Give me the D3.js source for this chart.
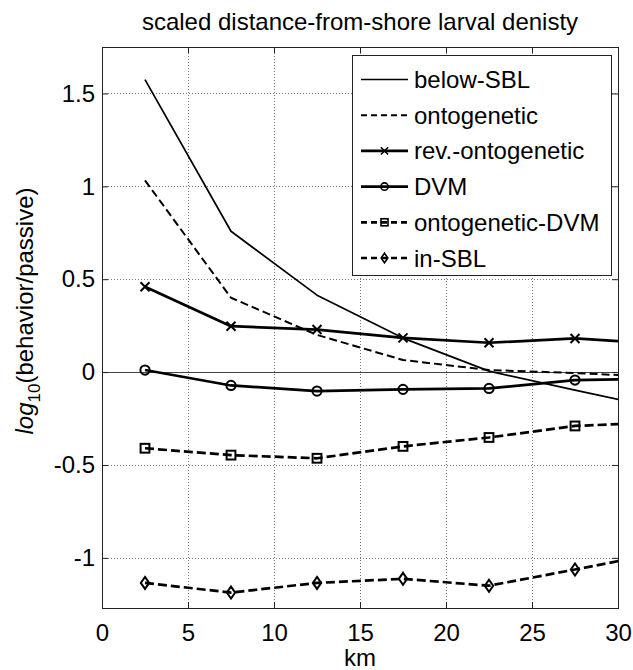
<!DOCTYPE html>
<html>
<head>
<meta charset="utf-8">
<script src="https://cdn.jsdelivr.net/npm/d3@7"></script>
<style>
  html, body { margin: 0; padding: 0; background: #fff; }
  svg { display: block; font-family: "Liberation Sans", Arial, Helvetica, sans-serif; }
</style>
</head>
<body>
<svg id="chart" width="633" height="670"></svg>
<script>
// Distance bins (km, bin centres) and log10 ratio of behaviour to passive density
const km = [2.5, 7.5, 12.5, 17.5, 22.5, 27.5, 32.5];
const belowSBL       = [1.574, 0.758, 0.414, 0.183, 0.005, -0.097, -0.197];
const ontogenetic    = [1.032, 0.400, 0.200, 0.065, 0.011, -0.005, -0.027];
const revOntogenetic = [0.459, 0.247, 0.229, 0.184, 0.158, 0.181, 0.153];
const dvm            = [0.011, -0.072, -0.102, -0.093, -0.088, -0.043, -0.035];
const ontogeneticDVM = [-0.410, -0.447, -0.464, -0.400, -0.352, -0.290, -0.270];
const inSBL          = [-1.135, -1.187, -1.135, -1.113, -1.150, -1.063, -0.973];

const seriesNames = ["below-SBL", "ontogenetic", "rev.-ontogenetic", "DVM", "ontogenetic-DVM", "in-SBL"];
const seriesValues = [belowSBL, ontogenetic, revOntogenetic, dvm, ontogeneticDVM, inSBL];

const xTicks = [0, 5, 10, 15, 20, 25, 30];
const yTicks = [-1, -0.5, 0, 0.5, 1, 1.5];

const titleText = "scaled distance-from-shore larval denisty";
const xLabel = "km";

// Line appearance for each series (same order as seriesNames)
const styles = [
  { width: 1.7, dash: null,  legendDash: null,  marker: null },
  { width: 2.0, dash: "8,4", legendDash: "6,4", marker: null },
  { width: 2.7, dash: null,  legendDash: null,  marker: "x" },
  { width: 2.7, dash: null,  legendDash: null,  marker: "circle" },
  { width: 2.7, dash: "9,4", legendDash: "6,4", marker: "square" },
  { width: 2.7, dash: "9,4", legendDash: "6,4", marker: "diamond" }
];

const svg = d3.select("#chart");
const plotL = 102, plotR = 618, plotT = 47, plotB = 608;
const fontSize = 24;

const x = d3.scaleLinear().domain([0, 30]).range([plotL, plotR]);
const y = d3.scaleLinear().domain([-1.27, 1.75]).range([plotB, plotT]);

// title
svg.append("text")
  .attr("x", (plotL + plotR) / 2).attr("y", 30)
  .attr("text-anchor", "middle")
  .attr("font-size", fontSize)
  .text(titleText);

// dotted grid
const grid = svg.append("g").attr("stroke", "#777").attr("stroke-width", 1)
  .attr("stroke-dasharray", "1,2");
grid.selectAll("line.gx").data(xTicks.slice(1, -1)).join("line")
  .attr("x1", d => x(d) + 0.5).attr("x2", d => x(d) + 0.5)
  .attr("y1", plotT).attr("y2", plotB);
grid.selectAll("line.gy").data(yTicks).join("line")
  .attr("x1", plotL).attr("x2", plotR)
  .attr("y1", d => Math.round(y(d)) + 0.5).attr("y2", d => Math.round(y(d)) + 0.5);

// zero reference line
svg.append("line")
  .attr("x1", plotL).attr("x2", plotR)
  .attr("y1", Math.round(y(0)) + 0.5).attr("y2", Math.round(y(0)) + 0.5)
  .attr("stroke", "#444").attr("stroke-width", 1);

// axes with inward ticks on all four sides
const fmt = d => String(d);
const axB = svg.append("g").attr("transform", `translate(0,${plotB})`)
  .call(d3.axisBottom(x).tickValues(xTicks).tickFormat(fmt).tickSize(-6).tickPadding(16).tickSizeOuter(0));
const axT = svg.append("g").attr("transform", `translate(0,${plotT})`)
  .call(d3.axisTop(x).tickValues(xTicks).tickFormat("").tickSize(-6).tickSizeOuter(0));
const axL = svg.append("g").attr("transform", `translate(${plotL},0)`)
  .call(d3.axisLeft(y).tickValues(yTicks).tickFormat(fmt).tickSize(-6).tickPadding(7).tickSizeOuter(0));
const axR = svg.append("g").attr("transform", `translate(${plotR},0)`)
  .call(d3.axisRight(y).tickValues(yTicks).tickFormat("").tickSize(-6).tickSizeOuter(0));
[axB, axT, axL, axR].forEach(g => {
  g.selectAll(".domain").remove();
  g.selectAll(".tick line").attr("stroke", "#222");
  g.selectAll("text").attr("font-size", fontSize).attr("fill", "#000")
    .attr("font-family", "Liberation Sans, Arial, sans-serif");
});

// plot box
svg.append("rect")
  .attr("x", plotL + 0.5).attr("y", plotT + 0.5)
  .attr("width", plotR - plotL).attr("height", plotB - plotT)
  .attr("fill", "none").attr("stroke", "#222").attr("stroke-width", 1);

// axis labels
svg.append("text")
  .attr("x", (plotL + plotR) / 2).attr("y", 666)
  .attr("text-anchor", "middle").attr("font-size", fontSize)
  .text(xLabel);

const yl = svg.append("text")
  .attr("transform", `translate(33,${311}) rotate(-90)`)
  .attr("text-anchor", "middle").attr("font-size", fontSize);
yl.append("tspan").attr("font-style", "italic").text("log");
yl.append("tspan").attr("font-size", 17).attr("dy", 7).text("10");
yl.append("tspan").attr("dy", -7).text("(behavior/passive)");

// marker drawing
function drawMarker(g, type, cx, cy, sw, scale) {
  const k = scale || 1;
  if (type === "x") {
    const s = 4.5 * k;
    g.append("path")
      .attr("d", `M${cx - s},${cy - s}L${cx + s},${cy + s}M${cx - s},${cy + s}L${cx + s},${cy - s}`)
      .attr("stroke", "#000").attr("stroke-width", sw).attr("fill", "none");
  } else if (type === "circle") {
    g.append("circle").attr("cx", cx).attr("cy", cy).attr("r", 4.6 * k)
      .attr("stroke", "#000").attr("stroke-width", sw).attr("fill", "none");
  } else if (type === "square") {
    const h = 4.4 * k;
    g.append("rect").attr("x", cx - h).attr("y", cy - h).attr("width", 2 * h).attr("height", 2 * h)
      .attr("stroke", "#000").attr("stroke-width", sw).attr("fill", "none");
  } else if (type === "diamond") {
    const w = 4.2 * k, h = 6 * k;
    g.append("path")
      .attr("d", `M${cx},${cy - h}L${cx + w},${cy}L${cx},${cy + h}L${cx - w},${cy}Z`)
      .attr("stroke", "#000").attr("stroke-width", sw).attr("fill", "none");
  }
}

// clip to the axes
svg.append("defs").append("clipPath").attr("id", "plotclip")
  .append("rect").attr("x", plotL).attr("y", plotT).attr("width", plotR - plotL).attr("height", plotB - plotT);

const plot = svg.append("g").attr("clip-path", "url(#plotclip)");
const line = d3.line().x((d, i) => x(km[i])).y(d => y(d));

seriesValues.forEach((vals, k) => {
  const st = styles[k];
  plot.append("path")
    .attr("d", line(vals))
    .attr("fill", "none").attr("stroke", "#000")
    .attr("stroke-width", st.width)
    .attr("stroke-dasharray", st.dash)
    .attr("stroke-linejoin", "round");
  if (st.marker) {
    vals.forEach((v, i) => drawMarker(plot, st.marker, x(km[i]), y(v), 2));
  }
});

// legend
const lg = svg.append("g");
lg.append("rect")
  .attr("x", 352.5).attr("y", 55.5).attr("width", 259).attr("height", 220)
  .attr("fill", "#fff").attr("stroke", "#222").attr("stroke-width", 1);
seriesNames.forEach((name, k) => {
  const st = styles[k];
  const base = 88 + k * 35.7;
  const cy = base - 8.5;
  lg.append("line")
    .attr("x1", 361).attr("x2", 408).attr("y1", cy).attr("y2", cy)
    .attr("stroke", "#000").attr("stroke-width", st.width)
    .attr("stroke-dasharray", st.legendDash);
  if (st.marker) drawMarker(lg, st.marker, 384.5, cy, 1.6, 0.8);
  lg.append("text")
    .attr("x", 414).attr("y", base)
    .attr("font-size", fontSize)
    .text(name);
});
</script>
</body>
</html>
